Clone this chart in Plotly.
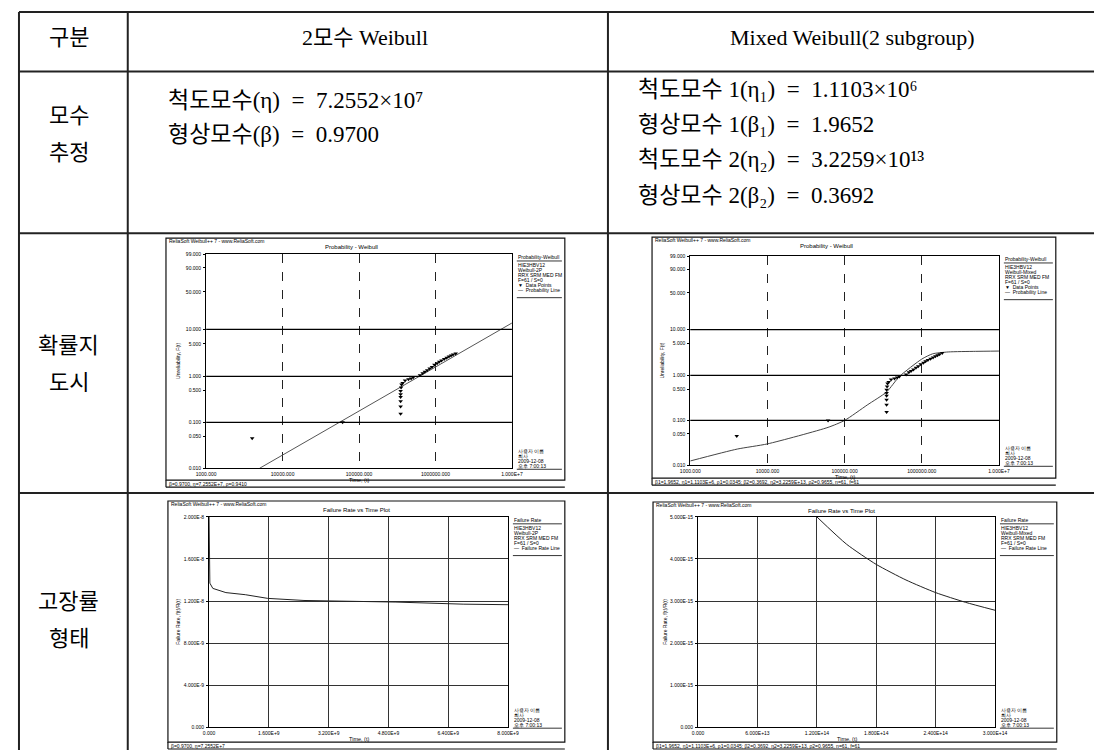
import numpy as np
import plotly.graph_objects as go

# window size and the browser's default body margin around the figure
W, H = 1107, 753
OFF = 8
FW, FH = W - OFF, H - OFF

# ---------------- data ----------------
row_labels = [["구분"], ["모수", "추정"], ["확률지", "도시"], ["고장률", "형태"]]
col_headers = ["2모수 Weibull", "Mixed Weibull(2 subgroup)"]
params_2p = ["척도모수(η)  =  7.2552×10\u2077", "형상모수(β)  =  0.9700"]
params_mixed = ["척도모수 1(η\u2081)  =  1.1103×10\u2076",
                "형상모수 1(β\u2081)  =  1.9652",
                "척도모수 2(η\u2082)  =  3.2259×10\u00b9\u00b3",
                "형상모수 2(β\u2082)  =  0.3692"]

# probability plot axes (unreliability in %, time)
prob_ticks_pct = [99, 90, 50, 10, 5, 1, 0.5, 0.1, 0.05, 0.01]
prob_tick_text = ["99.000", "90.000", "50.000", "10.000", "5.000", "1.000", "0.500", "0.100", "0.050", "0.010"]
prob_major_pct = [10, 1, 0.1]
time_ticks = [1e3, 1e4, 1e5, 1e6, 1e7]
time_tick_text = ["1000.000", "10000.000", "100000.000", "1000000.000", "1.000E+7"]

# failure data points (time, unreliability %)
pts_t = [4.0e3, 6.1e4, 3.5e5, 3.5e5, 3.5e5, 3.5e5, 3.5e5, 3.5e5, 3.55e5, 3.6e5, 3.72e5,
         4.0e5, 4.43e5, 4.8e5, 5.12e5, 6.27e5, 6.8e5, 7.26e5, 7.8e5, 8.4e5, 9.0e5, 9.7e5,
         1.05e6, 1.12e6, 1.2e6, 1.3e6, 1.4e6, 1.5e6, 1.6e6, 1.7e6, 1.84e6]
pts_F = [0.045, 0.10, 0.153, 0.222, 0.288, 0.355, 0.41, 0.48, 0.57, 0.66, 0.72,
         0.81, 0.86, 0.90, 0.95, 1.05, 1.17, 1.25, 1.36, 1.48, 1.59, 1.77,
         1.92, 2.07, 2.2, 2.35, 2.5, 2.67, 2.8, 2.95, 3.12]

# 2P Weibull probability line (read at its ends)
fit_t = [5.0e3, 1.0e7]
fit_F = [0.01, 13.5]

# Mixed Weibull probability curve
mix_t = [1e3, 4.06e3, 1e4, 6.1e4, 1e5, 1.96e5, 3.5e5, 5.13e5, 1e6, 1.38e6, 2.2e6, 5e6, 1e7]
mix_F = [0.0125, 0.023, 0.030, 0.070, 0.100, 0.22, 0.43, 0.95, 2.3, 3.0, 3.3, 3.4, 3.45]

# failure rate vs time, 2P Weibull
fr1_ticks_x = [0, 1.6e9, 3.2e9, 4.8e9, 6.4e9, 8.0e9]
fr1_text_x = ["0.000", "1.600E+9", "3.200E+9", "4.800E+9", "6.400E+9", "8.000E+9"]
fr1_ticks_y = [0, 4e-9, 8e-9, 1.2e-8, 1.6e-8, 2.0e-8]
fr1_text_y = ["0.000", "4.000E-9", "8.000E-9", "1.200E-8", "1.600E-8", "2.000E-8"]
fr1_t = [0.0, 0.02e9, 0.1e9, 0.45e9, 0.97e9, 1.57e9, 2.54e9, 4.1e9, 5.0e9, 6.8e9, 8.0e9]
fr1_r = [2.0e-8, 1.37e-8, 1.32e-8, 1.28e-8, 1.26e-8, 1.225e-8, 1.205e-8, 1.195e-8, 1.19e-8, 1.17e-8, 1.165e-8]

# failure rate vs time, mixed Weibull
fr2_ticks_x = [0, 6e13, 1.2e14, 1.8e14, 2.4e14, 3.0e14]
fr2_text_x = ["0.000", "6.000E+13", "1.200E+14", "1.800E+14", "2.400E+14", "3.000E+14"]
fr2_ticks_y = [0, 1e-15, 2e-15, 3e-15, 4e-15, 5e-15]
fr2_text_y = ["0.000", "1.000E-15", "2.000E-15", "3.000E-15", "4.000E-15", "5.000E-15"]
fr2_t = [1.2e14, 1.5e14, 1.8e14, 2.1e14, 2.4e14, 2.7e14, 3.0e14]
fr2_r = [5.0e-15, 4.35e-15, 3.87e-15, 3.5e-15, 3.2e-15, 2.97e-15, 2.78e-15]

# ---------------- helpers ----------------
KFONT = "Liberation Serif, Noto Sans CJK KR, serif"
SFONT = "Liberation Sans, Arial, sans-serif"


def px_x(p):
    return (max(p, OFF + 1) - OFF) / FW


def px_y(p):
    return 1 - (max(p, OFF + 1) - OFF) / FH


def wb(F):
    F = np.asarray(F, dtype=float) / 100.0
    return np.log(-np.log(1.0 - F))


shapes = []
anns = []


def line(x0, y0, x1, y1, w=1.0, c="black", dash="solid"):
    shapes.append(dict(type="line", xref="paper", yref="paper",
                       x0=px_x(x0), y0=px_y(y0), x1=px_x(x1), y1=px_y(y1),
                       line=dict(color=c, width=w, dash=dash)))


def rect(x0, y0, x1, y1, w=1.0, c="black"):
    shapes.append(dict(type="rect", xref="paper", yref="paper",
                       x0=px_x(x0), y0=px_y(y0), x1=px_x(x1), y1=px_y(y1),
                       line=dict(color=c, width=w), fillcolor="rgba(0,0,0,0)"))


def text(x, y, s, size, xa="left", ya="middle", family=SFONT, color="black", angle=0):
    anns.append(dict(xref="paper", yref="paper", x=px_x(x), y=px_y(y), text=s,
                     showarrow=False, xanchor=xa, yanchor=ya, textangle=angle,
                     borderpad=0, font=dict(size=size, family=family, color=color)))


# ---------------- table ----------------
TL, C1, C2, TR = 6, 120, 610, 1106
R0, R1, R2, R3, R4 = 4, 69, 232, 494, 753
LW = 2
for yy in (R0, R1, R2, R3):
    line(TL, yy, TR, yy, LW, "#222")
for xx in (TL, C1, C2):
    line(xx, R0, xx, R4, LW, "#222")

text(60, 35, row_labels[0][0], 22, "center", family=KFONT)
text(362, 35, col_headers[0], 22, "center", family=KFONT)
text(860, 35, col_headers[1], 22, "center", family=KFONT)
text(60, 113, row_labels[1][0], 22, "center", family=KFONT)
text(60, 151, row_labels[1][1], 22, "center", family=KFONT)
text(60, 345, row_labels[2][0], 22, "center", family=KFONT)
text(60, 383, row_labels[2][1], 22, "center", family=KFONT)
text(60, 603, row_labels[3][0], 22, "center", family=KFONT)
text(60, 641, row_labels[3][1], 22, "center", family=KFONT)

for i, s in enumerate(params_2p):
    text(160, 98 + 35 * i, s.replace("  ", "\u00a0\u00a0"), 23, family=KFONT)
for i, s in enumerate(params_mixed):
    text(640, 87 + 35.5 * i, s.replace("  ", "\u00a0\u00a0"), 23, family=KFONT)

# ---------------- embedded charts ----------------
TICKF = dict(size=5, family=SFONT, color="black")


def chart_frame(frame, title, title_x, footer, legend_title, legend_lines, plot, xlabel, ylabel, ydx):
    fx0, fy0, fx1, fy1 = frame
    px0, py0, px1, py1 = plot
    rect(fx0, fy0, fx1, fy1, 1.2, "#111")
    line(fx0, fy1 + 7, fx1, fy1 + 7, 1.2, "#111")
    line(fx0, fy1, fx0, fy1 + 7, 1.2, "#111")
    text(fx0 + 2, fy0 + 3, "ReliaSoft Weibull++ 7 - www.ReliaSoft.com", 5)
    text(title_x, fy0 + 9, title, 6, "center")
    text(fx0 + 2, fy1 + 3.5, footer, 5)
    # legend panel
    lx = px1 + 5
    text(lx, py0 + 3, legend_title, 5)
    line(lx, py0 + 7, fx1 - 3, py0 + 7, 0.8)
    for k, s in enumerate(legend_lines):
        text(lx, py0 + 11 + 5 * k, s, 5)
    yl = py0 + 14 + 5 * len(legend_lines)
    line(lx, yl, fx1 - 3, yl, 0.8)
    user = ["사용자 이름", "회사", "2009-12-08", "오후 7:00:13"]
    for k, s in enumerate(user):
        text(lx, py1 - 17 + 5 * k, s, 5)
    line(lx, py1 + 1, fx1 - 3, py1 + 1, 0.8)
    text((px0 + px1) / 2, py1 + 12, xlabel, 5.5, "center")
    text(px0 - ydx, (py0 + py1) / 2, ylabel, 5, "center", angle=-90)


fig = go.Figure()

geo = {
    1: dict(frame=(159, 237, 566, 481), plot=(200, 253, 512, 469)),
    2: dict(frame=(655, 236, 1067, 479), plot=(694, 255, 1009, 466)),
    3: dict(frame=(161, 502, 566, 745), plot=(203, 518, 508, 730)),
    4: dict(frame=(656, 503, 1068, 745), plot=(702, 518, 1005, 730)),
}

legend_prob_2p = ["HIE3HBV12", "Weibull-2P", "RRX SRM MED FM", "F=61 / S=0", "\u25bc  Data Points", "\u2014  Probability Line"]
legend_prob_mx = ["HIE3HBV12", "Weibull-Mixed", "RRX SRM MED FM", "F=61 / S=0", "\u25bc  Data Points", "\u2014  Probability Line"]
legend_fr_2p = ["HIE3HBV12", "Weibull-2P", "RRX SRM MED FM", "F=61 / S=0", "\u2014  Failure Rate Line"]
legend_fr_mx = ["HIE3HBV12", "Weibull-Mixed", "RRX SRM MED FM", "F=61 / S=0", "\u2014  Failure Rate Line"]

chart_frame(geo[1]["frame"], "Probability - Weibull", 348,
            "\u03b2=0.9700, \u03b7=7.2552E+7, \u03c1=0.9410", "Probability-Weibull",
            legend_prob_2p, geo[1]["plot"], "Time, (t)", "Unreliability, F(t)", 29)
chart_frame(geo[2]["frame"], "Probability - Weibull", 833,
            "\u03b21=1.9652, \u03b71=1.1103E+6, \u03c11=0.0345; \u03b22=0.3692, \u03b72=3.2259E+13, \u03c12=0.9655, n=61, f=61",
            "Probability-Weibull", legend_prob_mx, geo[2]["plot"], "Time, (t)", "Unreliability, F(t)", 29)
chart_frame(geo[3]["frame"], "Failure Rate vs Time Plot", 353,
            "\u03b2=0.9700, \u03b7=7.2552E+7", "Failure Rate",
            legend_fr_2p, geo[3]["plot"], "Time, (t)", "Failure Rate, f(t)/R(t)", 32)
chart_frame(geo[4]["frame"], "Failure Rate vs Time Plot", 848,
            "\u03b21=1.9652, \u03b71=1.1103E+6, \u03c11=0.0345; \u03b22=0.3692, \u03b72=3.2259E+13, \u03c12=0.9655, n=61, f=61",
            "Failure Rate", legend_fr_mx, geo[4]["plot"], "Time, (t)", "Failure Rate, f(t)/R(t)", 34)


def dom(plot):
    px0, py0, px1, py1 = plot
    return [px_x(px0), px_x(px1)], [px_y(py1), px_y(py0)]


axis_common = dict(showline=True, mirror=True, linecolor="black", linewidth=1,
                   zeroline=False, tickfont=TICKF, fixedrange=True)

layout_axes = {}
# probability plots (1, 2)
for i in (1, 2):
    sx = "" if i == 1 else str(i)
    xd, yd = dom(geo[i]["plot"])
    layout_axes["xaxis" + sx] = dict(axis_common, domain=xd, anchor="y" + sx, type="log",
                                     range=[3, 7], tickmode="array", tickvals=time_ticks,
                                     ticktext=time_tick_text, showgrid=True, gridcolor="#222",
                                     griddash="dash", gridwidth=1, ticks="", ticklabelstandoff=1)
    layout_axes["yaxis" + sx] = dict(axis_common, domain=yd, anchor="x" + sx,
                                     range=[float(wb(0.01)), float(wb(99))], tickmode="array",
                                     tickvals=[float(v) for v in wb(prob_ticks_pct)],
                                     ticktext=prob_tick_text, showgrid=False, ticks="outside",
                                     ticklen=2, tickcolor="black", ticklabelstandoff=1)
    for v in prob_major_pct:
        shapes.append(dict(type="line", xref="x" + sx + " domain", yref="y" + sx,
                           x0=0, x1=1, y0=float(wb(v)), y1=float(wb(v)),
                           line=dict(color="black", width=1.3)))

# failure rate plots (3, 4)
for i, (tx, ttx, ty, tty) in ((3, (fr1_ticks_x, fr1_text_x, fr1_ticks_y, fr1_text_y)),
                               (4, (fr2_ticks_x, fr2_text_x, fr2_ticks_y, fr2_text_y))):
    sx = str(i)
    xd, yd = dom(geo[i]["plot"])
    layout_axes["xaxis" + sx] = dict(axis_common, domain=xd, anchor="y" + sx,
                                     range=[tx[0], tx[-1]], tickmode="array", tickvals=tx,
                                     ticktext=ttx, showgrid=True, gridcolor="#333", gridwidth=1.2,
                                     ticks="", ticklabelstandoff=1)
    layout_axes["yaxis" + sx] = dict(axis_common, domain=yd, anchor="x" + sx,
                                     range=[ty[0], ty[-1]], tickmode="array", tickvals=ty,
                                     ticktext=tty, showgrid=True, gridcolor="#333", gridwidth=1.2,
                                     ticks="outside", ticklen=2, tickcolor="black", ticklabelstandoff=1)

# traces
fig.add_trace(go.Scatter(x=fit_t, y=wb(fit_F), mode="lines", xaxis="x", yaxis="y",
                         line=dict(color="#555", width=1), hoverinfo="skip"))
fig.add_trace(go.Scatter(x=pts_t, y=wb(pts_F), mode="markers", xaxis="x", yaxis="y",
                         marker=dict(symbol="triangle-down", size=4, color="black"), hoverinfo="skip"))
fig.add_trace(go.Scatter(x=mix_t, y=wb(mix_F), mode="lines", xaxis="x2", yaxis="y2",
                         line=dict(color="#444", width=1, shape="spline", smoothing=0.6), hoverinfo="skip"))
fig.add_trace(go.Scatter(x=pts_t, y=wb(pts_F), mode="markers", xaxis="x2", yaxis="y2",
                         marker=dict(symbol="triangle-down", size=4, color="black"), hoverinfo="skip"))
fig.add_trace(go.Scatter(x=fr1_t, y=fr1_r, mode="lines", xaxis="x3", yaxis="y3",
                         line=dict(color="#222", width=1), hoverinfo="skip"))
fig.add_trace(go.Scatter(x=fr2_t, y=fr2_r, mode="lines", xaxis="x4", yaxis="y4",
                         line=dict(color="#222", width=1, shape="spline", smoothing=0.6), hoverinfo="skip"))

fig.update_layout(width=FW, height=FH, margin=dict(l=0, r=0, t=0, b=0),
                  paper_bgcolor="white", plot_bgcolor="white", showlegend=False,
                  shapes=shapes, annotations=anns, **layout_axes)

fig.write_html("out.html")
